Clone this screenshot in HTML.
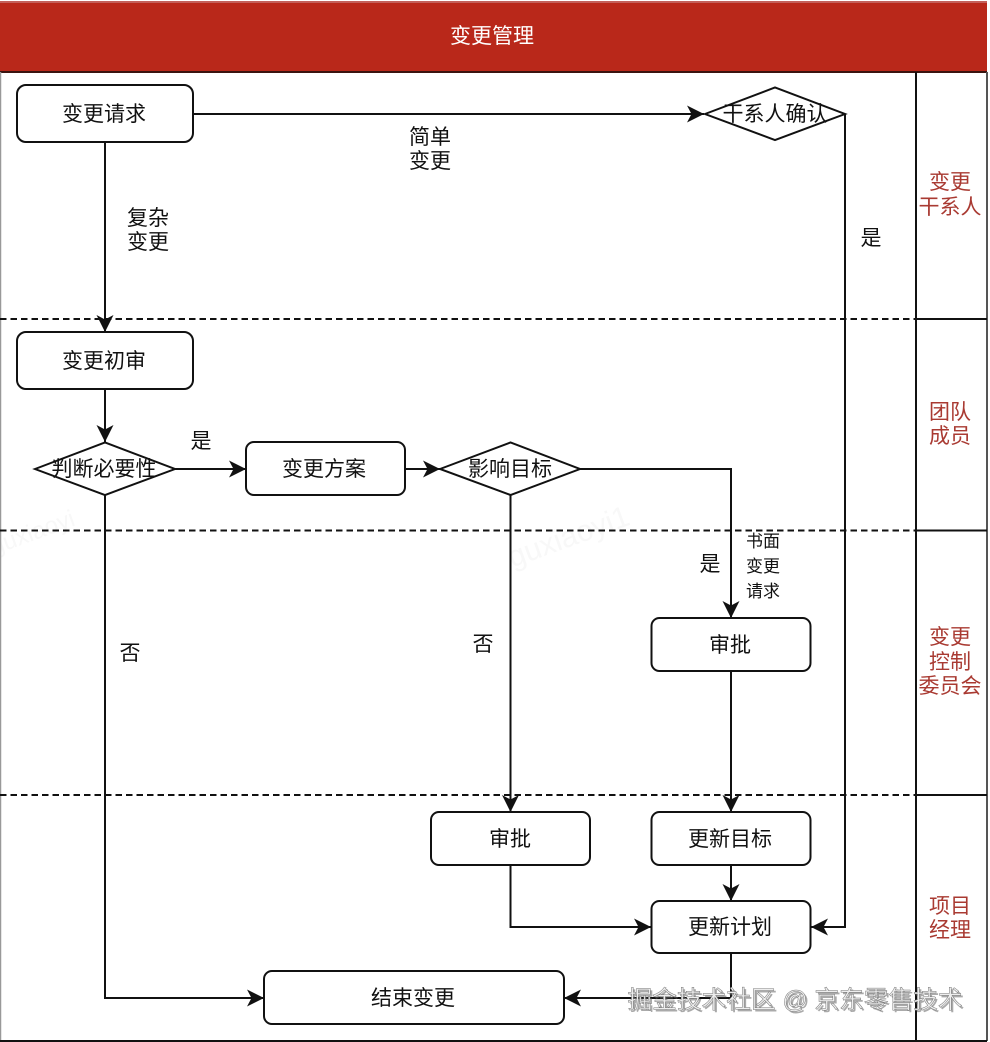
<!DOCTYPE html>
<html lang="zh">
<head>
<meta charset="utf-8">
<style>
html,body{margin:0;padding:0;background:#fff;width:990px;height:1042px;overflow:hidden}
svg{display:block}
text{font-family:"Liberation Sans","WenQuanYi Zen Hei","Noto Sans CJK SC",sans-serif;font-size:21px;fill:#111;text-anchor:middle}
.r{fill:#a93a32}
.s{font-size:17px}
.n{fill:#fff;stroke:#111;stroke-width:2}
.l{fill:none;stroke:#111;stroke-width:2}
.d{stroke:#111;stroke-width:2;stroke-dasharray:6.5 4;fill:none}
</style>
</head>
<body>
<svg width="990" height="1042" viewBox="0 0 990 1042" xmlns="http://www.w3.org/2000/svg">
<defs>
<marker id="a" markerUnits="userSpaceOnUse" markerWidth="20" markerHeight="20" refX="17" refY="9" orient="auto">
<path d="M0 0.500 L17 9 L0 17.500 L4.500 9 Z" fill="#111"/>
</marker>
</defs>
<rect width="990" height="1042" fill="#fff"/>
<!-- faint watermarks -->
<text x="35" y="540" transform="rotate(-20 35 540)" style="font-size:24px;fill:#f8f8f8">guxiaoyi</text>
<text x="572" y="546" transform="rotate(-20 572 546)" style="font-size:30px;fill:#f8f8f8">guxiaoyi1</text>
<!-- frame -->
<rect x="0" y="1" width="987" height="71" fill="#b9281a"/>
<rect x="0" y="1" width="987" height="2" fill="#c4605a"/>
<line x1="0" y1="72" x2="987" y2="72" stroke="#3a1410" stroke-width="2"/>
<line x1="0.500" y1="72" x2="0.500" y2="1041" stroke="#999" stroke-width="1.500"/>
<line x1="987" y1="72" x2="987" y2="1041" stroke="#555" stroke-width="2"/>
<line x1="0" y1="1041" x2="987" y2="1041" stroke="#111" stroke-width="2"/>
<line x1="916" y1="72" x2="916" y2="1041" stroke="#111" stroke-width="2"/>
<path class="d" d="M0 319H916M0 530.500H916M0 795H916"/>
<path d="M916 319H987M916 530.500H987M916 795H987" stroke="#111" stroke-width="2" fill="none"/>
<text x="492" y="43" style="fill:#fff">变更管理</text>
<!-- connectors -->
<path class="l" marker-end="url(#a)" d="M193 114H704"/>
<path class="l" marker-end="url(#a)" d="M105 142V332"/>
<path class="l" marker-end="url(#a)" d="M845 114V927H811"/>
<path class="l" marker-end="url(#a)" d="M105 389V442"/>
<path class="l" marker-end="url(#a)" d="M175 469H246"/>
<path class="l" marker-end="url(#a)" d="M405 469H440"/>
<path class="l" marker-end="url(#a)" d="M580 469H731V618"/>
<path class="l" marker-end="url(#a)" d="M510.500 495V812"/>
<path class="l" marker-end="url(#a)" d="M105 495V998H264"/>
<path class="l" marker-end="url(#a)" d="M731 671V812"/>
<path class="l" marker-end="url(#a)" d="M731 865V901"/>
<path class="l" marker-end="url(#a)" d="M510.500 865V927H651"/>
<path class="l" marker-end="url(#a)" d="M731 953V998H564"/>
<!-- nodes -->
<rect class="n" x="17" y="85" width="176" height="57" rx="9"/>
<text x="104" y="121">变更请求</text>
<path class="n" style="fill:none" d="M705 114L775 87.500L845 114L775 140Z"/>
<text x="775" y="121">干系人确认</text>
<rect class="n" x="17" y="332" width="176" height="57" rx="9"/>
<text x="104" y="368">变更初审</text>
<path class="n" style="fill:none" d="M35 469L105 442.500L175 469L105 495Z"/>
<text x="104" y="476">判断必要性</text>
<rect class="n" x="246" y="442" width="159" height="53" rx="8"/>
<text x="324" y="476">变更方案</text>
<path class="n" style="fill:none" d="M440 469L510.500 442.500L580 469L510.500 495Z"/>
<text x="510" y="476">影响目标</text>
<rect class="n" x="651.500" y="618" width="159" height="53" rx="8"/>
<text x="730" y="652">审批</text>
<rect class="n" x="431" y="812" width="159" height="53" rx="8"/>
<text x="510" y="846">审批</text>
<rect class="n" x="651.500" y="812" width="159" height="53" rx="8"/>
<text x="730" y="846">更新目标</text>
<rect class="n" x="651.500" y="901" width="159" height="52" rx="8"/>
<text x="730" y="934">更新计划</text>
<rect class="n" x="264" y="971" width="300" height="53" rx="8"/>
<text x="413" y="1005">结束变更</text>
<!-- labels -->
<text x="430" y="144">简单</text>
<text x="430" y="168">变更</text>
<text x="148" y="225">复杂</text>
<text x="148" y="249">变更</text>
<text x="871" y="245">是</text>
<text x="201" y="448">是</text>
<text x="710" y="571">是</text>
<text x="130" y="660">否</text>
<text x="483" y="651">否</text>
<text class="s" x="763" y="547">书面</text>
<text class="s" x="763" y="572">变更</text>
<text class="s" x="763" y="597">请求</text>
<!-- lanes -->
<text class="r" x="950" y="189">变更</text>
<text class="r" x="950" y="214">干系人</text>
<text class="r" x="950" y="419">团队</text>
<text class="r" x="950" y="443">成员</text>
<text class="r" x="950" y="644">变更</text>
<text class="r" x="950" y="669">控制</text>
<text class="r" x="950" y="693">委员会</text>
<text class="r" x="950" y="913">项目</text>
<text class="r" x="950" y="937">经理</text>
<!-- site watermark -->
<text x="796" y="1009" style="font-size:24.700px;fill:#666;opacity:.55" transform="translate(1 1)">掘金技术社区 @ 京东零售技术</text>
<text x="795" y="1008" style="font-size:24.700px;fill:#eee;stroke:#777;stroke-width:.5">掘金技术社区 @ 京东零售技术</text>
</svg>
</body>
</html>
